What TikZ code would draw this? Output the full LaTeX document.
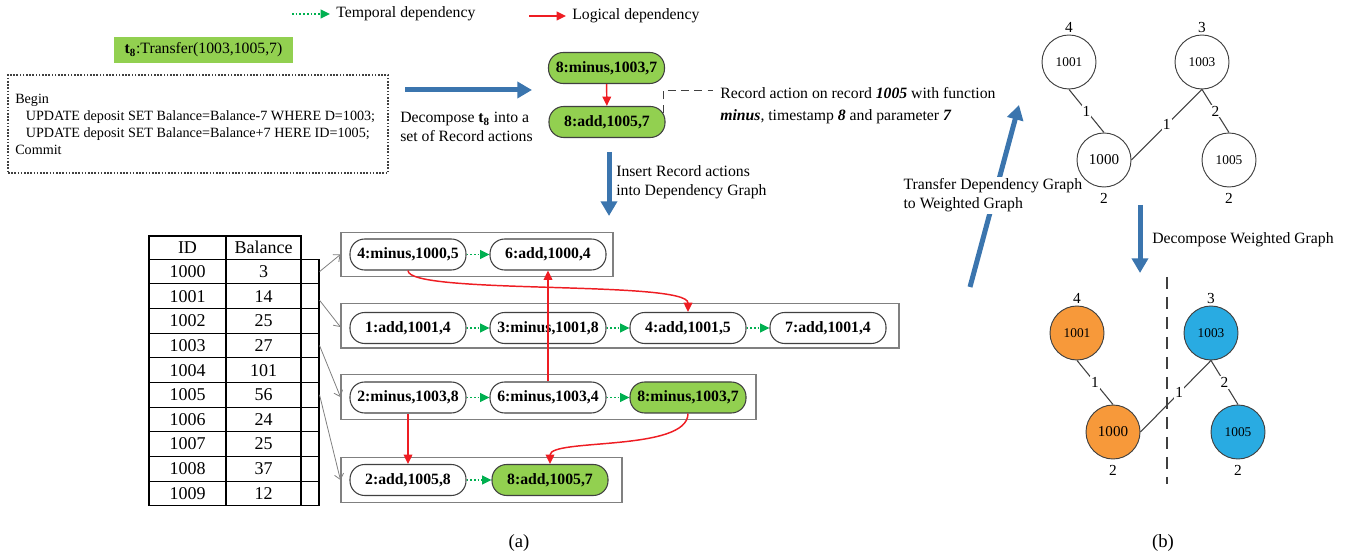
\documentclass[tikz,border=0pt]{standalone}
\usepackage{fontspec}
\setmainfont{Liberation Serif}
\usetikzlibrary{arrows.meta,positioning,calc}
\definecolor{ggreen}{HTML}{92D050}
\definecolor{tgreen}{HTML}{00B050}
\definecolor{lred}{HTML}{EE1D23}
\definecolor{barrow}{HTML}{3B75AE}
\definecolor{gorange}{HTML}{F7993A}
\definecolor{gblue}{HTML}{29ABE2}
\definecolor{edgegray}{HTML}{404040}
\tikzset{
  txt/.style={inner sep=0pt, font=\fontsize{11.8}{14}\selectfont},
  act/.style={draw=edgegray, line width=0.8pt, rounded corners=11pt, minimum width=87pt, minimum height=23.25pt, inner sep=0pt, fill=white, font=\fontsize{11.8}{14}\selectfont\bfseries},
  actg/.style={act, fill=ggreen},
  grp/.style={draw=gray, line width=0.8pt, inner sep=0pt},
  temporal/.style={draw=tgreen, dash pattern=on 1.2pt off 1.6pt, line width=1.2pt, -{Triangle[length=7pt,width=6.5pt]}},
  logical/.style={draw=lred, line width=1.1pt, -{Triangle[length=7pt,width=6.5pt]}},
  pointer/.style={draw=gray, line width=0.6pt, -{Straight Barb[length=4pt,width=7pt]}},
  bigarrow/.style={draw=barrow, line width=3.75pt, -{Triangle[length=11pt,width=12pt]}},
  callout/.style={draw=edgegray, line width=0.7pt, dash pattern=on 6pt off 4pt},
  cell/.style={inner sep=0pt, font=\fontsize{13.5}{16}\selectfont},
  ptrcell/.style={draw=black, line width=0.8pt, minimum width=13.5pt, minimum height=18.48pt, inner sep=0pt},
  vert/.style={circle, draw=edgegray, line width=0.7pt, minimum size=40.5pt, inner sep=0pt, font=\fontsize{10}{12}\selectfont},
  vertbig/.style={vert, font=\fontsize{11.3}{13}\selectfont},
  wlab/.style={inner sep=0pt, font=\fontsize{11.5}{13}\selectfont},
  elab/.style={fill=white, inner sep=0.8pt, font=\fontsize{11.5}{13}\selectfont},
  gedge/.style={draw=edgegray, line width=0.8pt},
}
\begin{document}
\begin{tikzpicture}[x=0.75pt,y=-0.75pt]
\useasboundingbox (0,0) rectangle (1350,555);

% legend
\coordinate (tl1) at (292,14);
\coordinate (tl2) at (330,14);
\draw[temporal] (tl1) -- (tl2);
\node[txt, anchor=west] (tlab) at (336,14) {Temporal dependency};
\coordinate (ll1) at (529,16);
\coordinate (ll2) at (566,16);
\draw[logical] (ll1) -- (ll2);
\node[txt, anchor=west] (llab) at (572,16) {Logical dependency};

% transaction
\node[fill=ggreen, minimum width=134pt, minimum height=19.5pt, txt] (t8) at (203.5,50) {\textbf{t\textsubscript{8}}:Transfer(1003,1005,7)};
\node[draw=edgegray, dash pattern=on 1.2pt off 1.2pt, line width=0.8pt, minimum width=285pt, minimum height=73.5pt, inner sep=0pt] (sql) at (198,124) {};
\node[anchor=west, align=left, inner sep=0pt, font=\fontsize{10.6}{12.75}\selectfont] (code) at (15,124.5) {Begin\\\hspace*{8pt}UPDATE deposit SET Balance=Balance-7 WHERE D=1003;\\\hspace*{8pt}UPDATE deposit SET Balance=Balance+7 HERE ID=1005;\\Commit};

% decompose arrow
\coordinate (bd1) at (405,90);
\coordinate (bd2) at (532,90);
\draw[bigarrow] (bd1) -- (bd2);
\node[txt, anchor=west, align=left, font=\fontsize{11.8}{13.9}\selectfont] (dtxt) at (400,127) {Decompose \textbf{t\textsubscript{8}} into a\\set of Record actions};

% record actions of t8
\node[actg] (m8) at (606.5,68) {8:minus,1003,7};
\node[actg] (a8) at (607,122) {8:add,1005,7};
\draw[logical] (m8) -- (a8);
\coordinate (co) at (713,90);
\draw[callout] ([xshift=-1.5pt,yshift=7pt]a8.east) |- (co);
\node[txt, anchor=west, align=left, font=\fontsize{11.8}{16.5}\selectfont] (cotxt) at (720,106) {Record action on record \textbf{\textit{1005}} with function\\\textbf{\textit{minus}}, timestamp \textbf{\textit{8}} and parameter \textbf{\textit{7}}};

% insert arrow
\coordinate (ia1) at (609,152);
\coordinate (ia2) at (609,216);
\draw[bigarrow] (ia1) -- (ia2);
\node[txt, anchor=west, align=left, font=\fontsize{11.8}{14.2}\selectfont] (itxt) at (616,182.5) {Insert Record actions\\into Dependency Graph};

% table
\draw[black, line width=0.8pt] (149,236) rectangle (301,505.7);
\draw[black, line width=0.8pt] (226,236) -- (226,505.7);
\foreach \i in {0,...,9} {
  \draw[black, line width=0.8pt] (149,259.3+\i*24.64) -- (301,259.3+\i*24.64);
}
\node[cell] (hid) at (187.5,247.6) {ID};
\node[cell] (hbal) at (263.5,247.6) {Balance};
\foreach \i/\id/\bal in {0/1000/3,1/1001/14,2/1002/25,3/1003/27,4/1004/101,5/1005/56,6/1006/24,7/1007/25,8/1008/37,9/1009/12} {
  \node[cell] (id\i) at (187.5,259.3+\i*24.64+12.32) {\id};
  \node[cell] (bal\i) at (263.5,259.3+\i*24.64+12.32) {\bal};
  \node[ptrcell] (pc\i) at (310,259.3+\i*24.64+12.32) {};
}

% groups
\node[grp, minimum width=204pt, minimum height=33.5pt] (g1) at (477,254.5) {};
\node[grp, minimum width=418.5pt, minimum height=33.5pt] (g2) at (620,325.7) {};
\node[grp, minimum width=311.25pt, minimum height=33.5pt] (g3) at (548.5,397) {};
\node[grp, minimum width=210.75pt, minimum height=33.5pt] (g4) at (481.5,480) {};

\draw[pointer] (pc0.east) -- (g1.west);
\draw[pointer] ([yshift=-3pt]pc1.east) -- ([yshift=-1pt]g2.west);
\draw[pointer] (pc3.east) -- (g3.west);
\draw[pointer] (pc5.east) -- (g4.west);

% actions
\node[act] (a41) at (408,254.5) {4:minus,1000,5};
\node[act] (a61) at (548,254.5) {6:add,1000,4};
\node[act] (b1) at (408,328) {1:add,1001,4};
\node[act] (b3) at (548,328) {3:minus,1001,8};
\node[act] (b4) at (688,328) {4:add,1001,5};
\node[act] (b7) at (828,328) {7:add,1001,4};
\node[act] (c2) at (408,397.5) {2:minus,1003,8};
\node[act] (c6) at (548,397.5) {6:minus,1003,4};
\node[actg] (c8) at (688,397.5) {8:minus,1003,7};
\node[act] (d2) at (408,480) {2:add,1005,8};
\node[actg] (d8) at (550,480) {8:add,1005,7};

\draw[temporal] (a41) -- (a61);
\draw[temporal] (b1) -- (b3);
\draw[temporal] (b3) -- (b4);
\draw[temporal] (b4) -- (b7);
\draw[temporal] (c2) -- (c6);
\draw[temporal] (c6) -- (c8);
\draw[temporal] (d2) -- (d8);

\draw[logical] (a41.south) .. controls (408,295) and (688,280) .. (b4.north);
\draw[logical] (c6.north) -- (a61.south);
\draw[logical] (c2.south) -- (d2.north);
\draw[logical] (c8.south) .. controls (688,452) and (550,438) .. (d8.north);

% transfer arrow
\coordinate (ta1) at (970,287);
\coordinate (ta2) at (1019,105);
\draw[bigarrow] (ta1) -- (ta2);
\node[txt, anchor=west, align=left, fill=white, inner sep=1pt, font=\fontsize{11.8}{14.2}\selectfont] (ttxt) at (902,195.5) {Transfer Dependency Graph\\to Weighted Graph};

% weighted graph
\node[vert] (u1001) at (1069,62) {1001};
\node[vert] (u1003) at (1202,62) {1003};
\node[vertbig] (u1000) at (1104,160) {1000};
\node[vert] (u1005) at (1229,160) {1005};
\node[wlab, above=1pt of u1001] (uw1001) {4};
\node[wlab, above=1pt of u1003] (uw1003) {3};
\node[wlab, below=4pt of u1000] (uw1000) {2};
\node[wlab, below=4pt of u1005] (uw1005) {2};
\draw[gedge] (u1001.south) -- node[elab] (ue1) {1} (u1000.north);
\draw[gedge] (u1003.south) -- node[elab] (ue2) {1} (u1000.east);
\draw[gedge] (u1003.south) -- node[elab] (ue3) {2} (u1005.north);

% decompose weighted graph arrow
\coordinate (dw1) at (1140,205);
\coordinate (dw2) at (1140,273);
\draw[bigarrow] (dw1) -- (dw2);
\node[txt, anchor=west] (dwtxt) at (1152,240) {Decompose Weighted Graph};

% partitioned graph
\coordinate (cut1) at (1167,277);
\coordinate (cut2) at (1167,484);
\draw[draw=edgegray, line width=2pt, dash pattern=on 9pt off 6pt] (cut1) -- (cut2);
\node[vert, fill=gorange] (v1001) at (1077,333) {1001};
\node[vert, fill=gblue] (v1003) at (1211,333) {1003};
\node[vertbig, fill=gorange] (v1000) at (1113,432) {1000};
\node[vert, fill=gblue] (v1005) at (1238,432) {1005};
\node[wlab, above=1pt of v1001] (vw1001) {4};
\node[wlab, above=1pt of v1003] (vw1003) {3};
\node[wlab, below=4pt of v1000] (vw1000) {2};
\node[wlab, below=4pt of v1005] (vw1005) {2};
\draw[gedge] (v1001.south) -- node[elab] (ve1) {1} (v1000.north);
\draw[gedge] (v1003.south) -- node[elab, pos=0.45] (ve2) {1} (v1000.east);
\draw[gedge] (v1003.south) -- node[elab] (ve3) {2} (v1005.north);

% captions
\node[inner sep=0pt, font=\fontsize{14}{16}\selectfont] (capa) at (519,543) {(a)};
\node[inner sep=0pt, font=\fontsize{14}{16}\selectfont] (capb) at (1163,543) {(b)};
\end{tikzpicture}
\end{document}
